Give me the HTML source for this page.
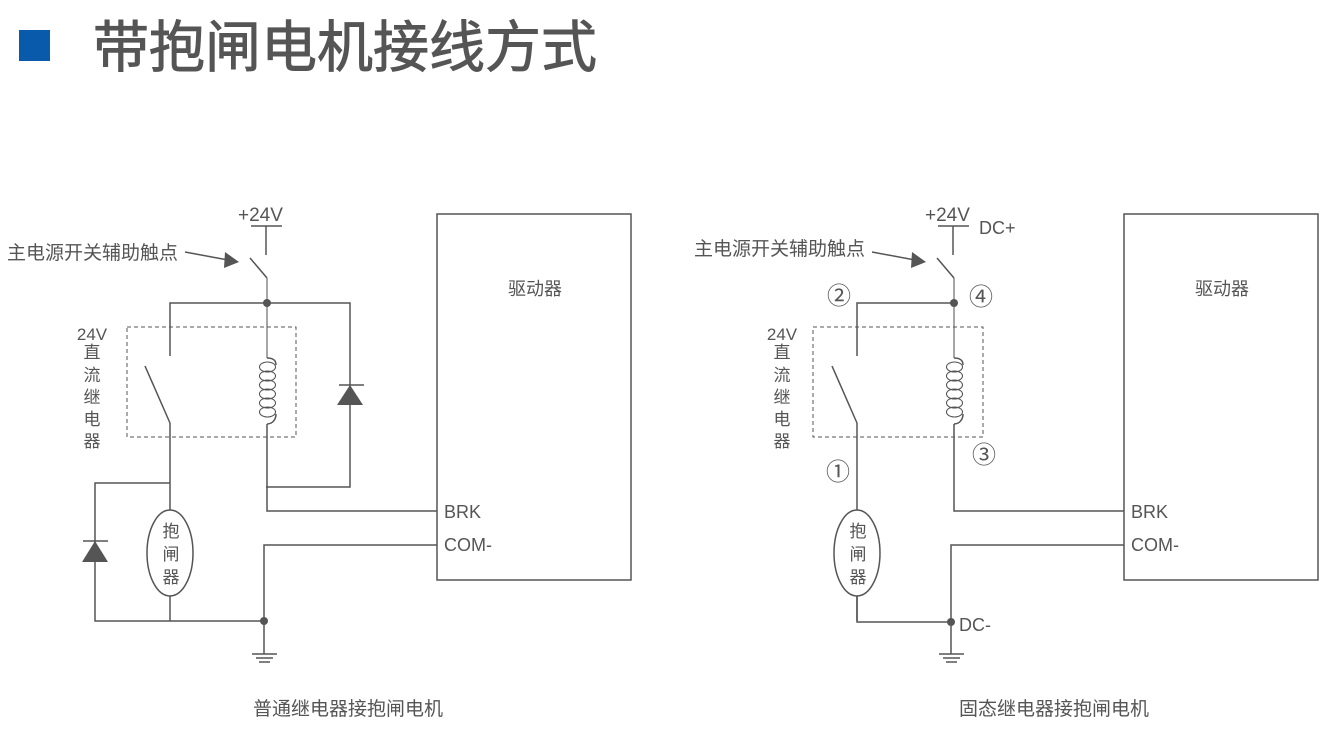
<!DOCTYPE html>
<html><head><meta charset="utf-8">
<style>
html,body{margin:0;padding:0;background:#fff;}
svg{display:block;}
text{font-family:"Liberation Sans","Noto Sans CJK SC",sans-serif;fill:#555;}
</style></head>
<body>
<svg width="1336" height="731" viewBox="0 0 1336 731" xmlns="http://www.w3.org/2000/svg">
<defs>
<g id="common" stroke="#555" stroke-width="1.5" fill="none">
  <line x1="251" y1="226" x2="282" y2="226"/>
  <line x1="266" y1="226" x2="266" y2="255"/>
  <line x1="250" y1="258" x2="267" y2="278"/>
  <line x1="267" y1="278" x2="267" y2="358" stroke="#888"/>
  <line x1="185" y1="252" x2="228" y2="260"/>
  <polygon points="225,252 239,262 224,268" fill="#555" stroke="none"/>
  <polyline points="267,303 170,303 170,356"/>
  <line x1="145" y1="366" x2="170" y2="423"/>
  <line x1="170" y1="423" x2="170" y2="510"/>
  <path d="M267,358 C276,358 276,363 276,365 M267,424 L267,511 L437,511" />
  <g stroke-width="1.1">
    <ellipse cx="267.5" cy="367" rx="8" ry="5"/>
    <ellipse cx="267.5" cy="376" rx="8" ry="5"/>
    <ellipse cx="267.5" cy="385" rx="8" ry="5"/>
    <ellipse cx="267.5" cy="394" rx="8" ry="5"/>
    <ellipse cx="267.5" cy="403" rx="8" ry="5"/>
    <ellipse cx="267.5" cy="412" rx="8" ry="5"/>
  </g>
  <path d="M276,414 C276,421 271,424 267,424"/>
  <ellipse cx="170" cy="553" rx="23" ry="43"/>
  <line x1="170" y1="596" x2="170" y2="621"/>
  <polyline points="437,545 264,545 264,654"/>
  <line x1="252" y1="654" x2="277" y2="654"/>
  <line x1="256" y1="658" x2="273" y2="658"/>
  <line x1="259" y1="662" x2="270" y2="662"/>
  <rect x="437" y="214" width="194" height="366"/>
</g>
</defs>

<rect x="19" y="30" width="31" height="31" fill="#0a5aab"/>
<text x="93" y="67" font-size="56" style="fill:#555;stroke:#555;stroke-width:0.9">带抱闸电机接线方式</text>

<use href="#common"/>
<g stroke="#555" stroke-width="1.5" fill="none">
  <rect x="127" y="327" width="169" height="110" stroke-dasharray="4,3" stroke-width="1"/>
  <polyline points="267,303 350,303 350,487 266,487"/>
  <line x1="339" y1="385" x2="364" y2="385"/>
  <polyline points="170,483 95,483 95,621 264,621"/>
  <line x1="83" y1="541" x2="108" y2="541"/>
</g>
<polygon points="350,385 337,405 363,405" fill="#555"/>
<polygon points="95,541 82,562 108,562" fill="#555"/>
<circle cx="267" cy="303" r="4" fill="#555"/>
<circle cx="264" cy="621" r="4" fill="#555"/>
<text x="238" y="221" font-size="19">+24V</text>
<text x="7" y="259" font-size="19">主电源开关辅助触点</text>
<g font-size="17" text-anchor="middle">
  <text x="92" y="340">24V</text>
  <text x="92" y="358">直</text><text x="92" y="381">流</text><text x="92" y="403">继</text><text x="92" y="425">电</text><text x="92" y="447">器</text>
  <text x="171" y="537">抱</text><text x="171" y="560">闸</text><text x="171" y="583">器</text>
  <text x="348" y="715" font-size="19">普通继电器接抱闸电机</text>
</g>
<text x="508" y="295" font-size="18">驱动器</text>
<text x="444" y="518" font-size="18">BRK</text>
<text x="444" y="551" font-size="18">COM-</text>

<g transform="translate(687,0)">
  <use href="#common"/>
  <g stroke="#555" stroke-width="1.5" fill="none">
    <rect x="126" y="327" width="170" height="110" stroke-dasharray="4,3" stroke-width="1"/>
    <polyline points="170,596 170,622 264,622"/>
  </g>
  <circle cx="267" cy="303" r="4" fill="#555"/>
  <circle cx="264" cy="622" r="4" fill="#555"/>
  <text x="238" y="221" font-size="19">+24V</text>
  <text x="292" y="234" font-size="18">DC+</text>
  <text x="272" y="631" font-size="18">DC-</text>
  <text x="7" y="255" font-size="19">主电源开关辅助触点</text>
  <g font-size="17" text-anchor="middle">
    <text x="95" y="340">24V</text>
    <text x="95" y="358">直</text><text x="95" y="381">流</text><text x="95" y="403">继</text><text x="95" y="425">电</text><text x="95" y="447">器</text>
    <text x="171" y="537">抱</text><text x="171" y="560">闸</text><text x="171" y="583">器</text>
    <text x="367" y="715" font-size="19">固态继电器接抱闸电机</text>
    <text x="152" y="304" font-size="24">②</text>
    <text x="294" y="305" font-size="24">④</text>
    <text x="297" y="463" font-size="24">③</text>
    <text x="151" y="480" font-size="24">①</text>
  </g>
  <text x="508" y="295" font-size="18">驱动器</text>
  <text x="444" y="518" font-size="18">BRK</text>
  <text x="444" y="551" font-size="18">COM-</text>
</g>
</svg>
</body></html>
